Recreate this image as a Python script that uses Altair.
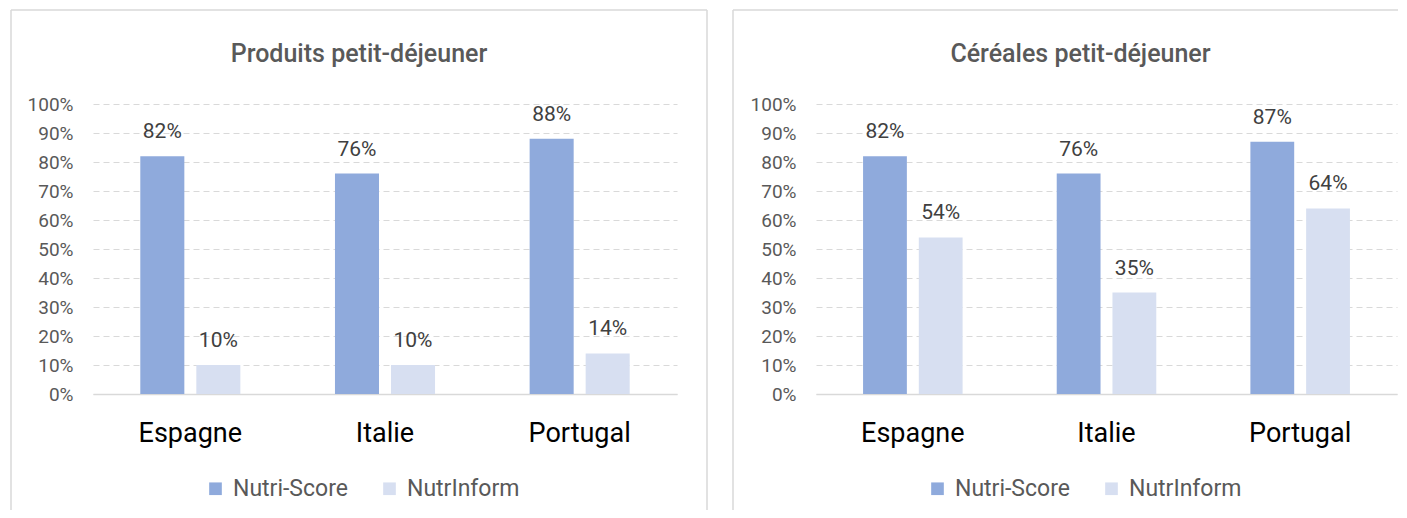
import altair as alt
import pandas as pd

countries = ["Espagne", "Italie", "Portugal"]
series = ["Nutri-Score", "NutrInform"]
colors = ["#8faadc", "#d7dff1"]

produits_nutriscore = [0.82, 0.76, 0.88]
produits_nutrinform = [0.10, 0.10, 0.14]
cereales_nutriscore = [0.82, 0.76, 0.87]
cereales_nutrinform = [0.54, 0.35, 0.64]

y_ticks = [i / 10 for i in range(11)]

TITLE_FONT = "Roboto"
FONT = "Roboto"
FRAME = "#d9d9d9"
H = 500
Y0 = 384   # pixel row of 0 %
Y100 = 94  # pixel row of 100 %


def panel(title, ns, ni, width, x_lo, x_hi, title_dx, right_edge):
    df = pd.DataFrame({
        "pays": countries * 2,
        "serie": [series[0]] * 3 + [series[1]] * 3,
        "valeur": ns + ni,
    })
    base = alt.Chart(df).encode(
        x=alt.X(
            "pays:N", sort=countries,
            scale=alt.Scale(range=[x_lo, x_hi], paddingInner=0.486, paddingOuter=0.243),
            axis=alt.Axis(
                title=None, offset=-(H - Y0), ticks=False, domain=True,
                domainColor="#d9d9d9", domainWidth=1.5, grid=False,
                labelAngle=0, labelFont=FONT, labelFontSize=27,
                labelColor="#000000", labelBaseline="alphabetic", labelPadding=47,
            ),
        ),
        xOffset=alt.XOffset("serie:N", sort=series,
                            scale=alt.Scale(paddingInner=0.214, paddingOuter=0)),
        y=alt.Y(
            "valeur:Q",
            scale=alt.Scale(domain=[0, 1], range=[Y0, Y100], nice=False, zero=True),
            axis=alt.Axis(
                title=None, values=y_ticks, format=".0%", offset=-(x_lo),
                labelPadding=20, ticks=False, domain=False, grid=True,
                gridDash=[6, 4], gridColor="#d9d9d9", gridWidth=1,
                labelFont=FONT, labelFontSize=19, labelColor="#595959",
            ),
        ),
    )
    bars = base.mark_bar().encode(
        color=alt.Color(
            "serie:N", sort=series,
            scale=alt.Scale(domain=series, range=colors),
            legend=alt.Legend(
                orient="none", legendX=193, legendY=467, direction="horizontal",
                title=None, symbolType="square", symbolSize=160,
                symbolStrokeWidth=0, labelFont=FONT, labelFontSize=23,
                labelColor="#595959", columnPadding=30, labelOffset=6, padding=0,
            ),
        )
    )
    labels = base.mark_text(
        baseline="bottom", dy=-14, font=FONT, fontSize=21, color="#404040"
    ).encode(text=alt.Text("valeur:Q", format=".0%"))

    # decorative panel frame (top, left and, where visible, right edge)
    one = alt.Chart(pd.DataFrame({"k": [0]}))
    frame = [
        one.mark_rule(color=FRAME, strokeWidth=1.5).encode(
            x=alt.value(0), x2=alt.value(width), y=alt.value(0)),
        one.mark_rule(color=FRAME, strokeWidth=1.5).encode(
            x=alt.value(0), y=alt.value(0), y2=alt.value(H)),
    ]
    if right_edge:
        frame.append(one.mark_rule(color=FRAME, strokeWidth=1.5).encode(
            x=alt.value(width), y=alt.value(0), y2=alt.value(H)))

    return alt.layer(bars, labels, *frame).properties(
        width=width, height=H,
        title=alt.TitleParams(
            title, anchor="middle", frame="group", offset=-78,
            baseline="alphabetic", font=TITLE_FONT, fontSize=25,
            fontWeight=500, color="#595959", dx=title_dx,
        ),
    )


left = panel("Produits petit-déjeuner", produits_nutriscore, produits_nutrinform,
             696, 82, 666, 0, True)
right = panel("Céréales petit-déjeuner", cereales_nutriscore, cereales_nutrinform,
              665, 83, 664, 15, False)

chart = alt.hconcat(left, right, spacing=24).resolve_scale(
    x="independent", y="independent", color="independent", xOffset="independent"
).resolve_legend(color="independent").properties(
    padding={"left": 2, "top": 1, "right": 0, "bottom": 0},
    background="white",
).configure_view(stroke="transparent", strokeWidth=0)

chart.save("out.html", embed_options={"renderer": "svg", "actions": False})
